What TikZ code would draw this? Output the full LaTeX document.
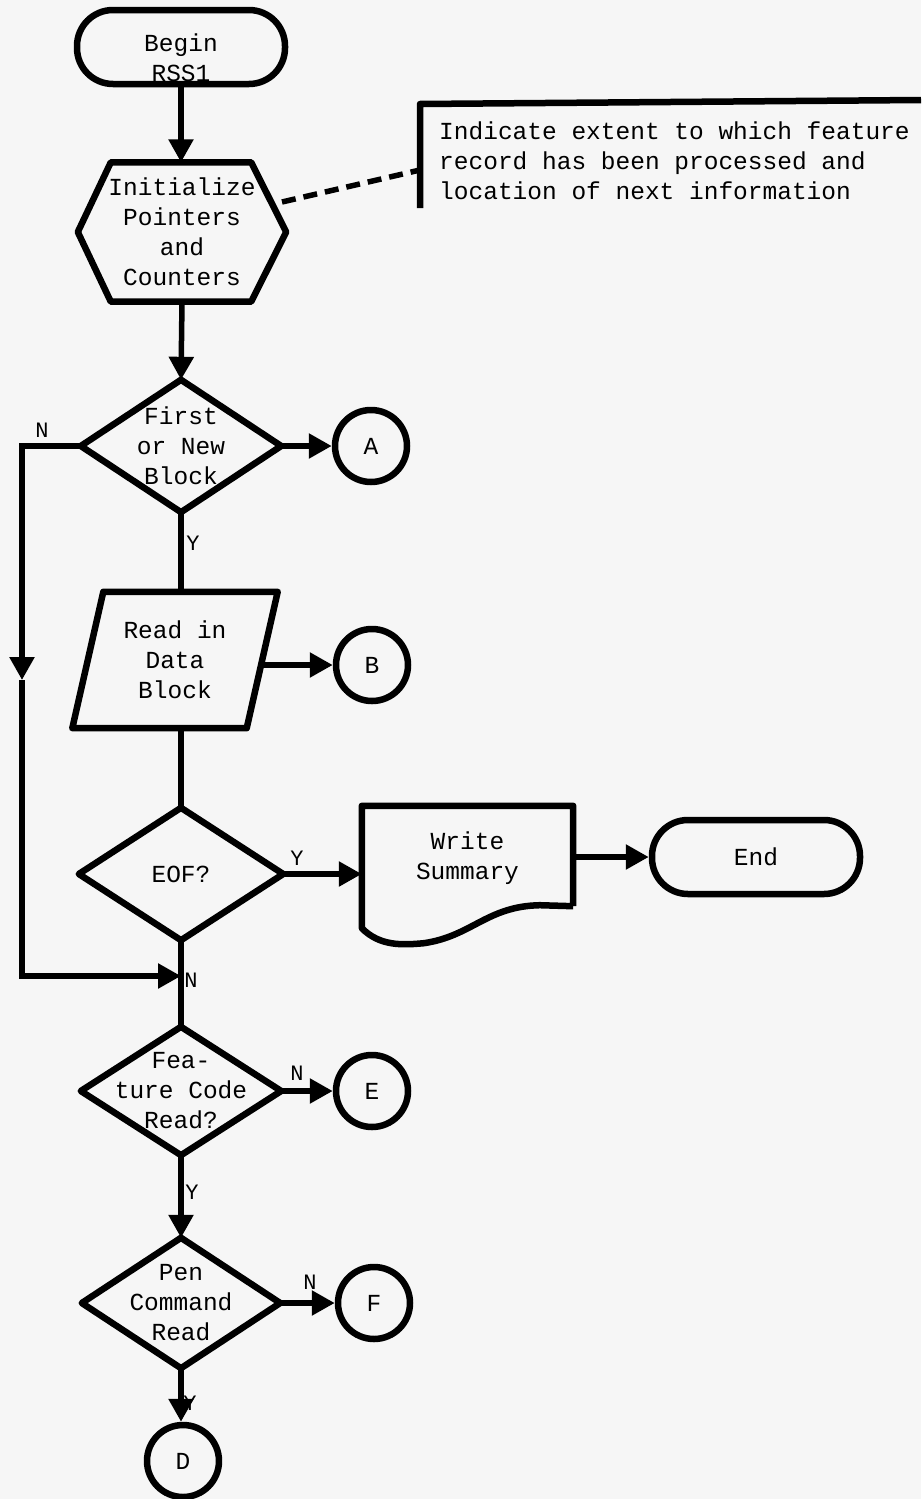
\documentclass[tikz,border=0pt]{standalone}
\usepackage{fontspec}
\setmainfont{Liberation Mono}
\usetikzlibrary{arrows.meta,calc}
\definecolor{paper}{RGB}{246,246,246}
\begin{document}
\begin{tikzpicture}[x=1pt,y=-1pt,
  every node/.style={font=\fontsize{24.5}{30}\selectfont, inner sep=0pt},
  shp/.style={line width=6.5pt, line join=round},
  con/.style={line width=5.5pt},
  arr/.style={con, -{Triangle[length=23pt,width=24pt]}},
  box/.style={rectangle, align=center},
  term/.style={shp, draw, rectangle, rounded corners=36pt, minimum width=208pt, minimum height=74pt},
  conn/.style={shp, draw, circle, minimum size=72pt},
  lbl/.style={font=\fontsize{22}{26}\selectfont}]
\fill[paper] (0,0) rectangle (921,1499);
\useasboundingbox (0,0) rectangle (921,1499);

% Begin
\node[term] (begin) at (181,47) {};
\node[align=center] (begintxt) at (181,58) {Begin\\RSS1};

% Initialize (hexagon)
\node[box, minimum width=208, minimum height=139] (init) at (182,232) {Initialize\\Pointers\\and\\Counters};
\draw[shp] ($(init.north west)+(33,0)$) -- ($(init.north east)+(-35,0)$) -- (init.east)
  -- ($(init.south east)+(-35,0)$) -- ($(init.south west)+(33,0)$) -- (init.west) -- cycle;
\draw[arr] (begin.south) -- (begin.south |- init.north);

% Annotation
\node[anchor=west, align=left] (note) at (439,161) {Indicate extent to which feature\\record has been processed and\\location of next information};
\coordinate (bt) at (420,104);
\coordinate (bb) at (420,208);
\coordinate (br) at (921,100);
\draw[shp] (br) -- (bt) -- (bb);
\coordinate (ds) at (282,202);
\coordinate (de) at (420,170);
\draw[con, dash pattern=on 14pt off 8pt] (ds) -- (de);

% First or New Block
\node[box, minimum width=200, minimum height=132] (first) at (181,446) {First\\or New\\Block};
\draw[shp] (first.north) -- (first.east) -- (first.south) -- (first.west) -- cycle;
\draw[arr] (init.south) -- (first.north);
\node[conn] (A) at (371,446) {A};
\draw[arr] (first.east) -- (A.west);
\node[lbl] (lN1) at (42,430) {N};
\node[lbl] (lY1) at (193,543) {Y};

% Read in Data Block
\node[box, minimum width=205, minimum height=136] (read) at (175,660) {Read in\\Data\\Block};
\draw[shp] ($(read.north west)+(31,0)$) -- (read.north east) -- ($(read.south east)+(-31,0)$)
  -- (read.south west) -- cycle;
\draw[con] (first.south) -- (first.south |- read.north);
\node[conn] (B) at (372,665) {B};
\coordinate (readR) at (262,665);
\draw[arr] (readR) -- (B.west);

% EOF?
\node[box, minimum width=204, minimum height=132] (eof) at (181,874) {EOF?};
\draw[shp] (eof.north) -- (eof.east) -- (eof.south) -- (eof.west) -- cycle;
\draw[con] (eof.north |- read.south) -- (eof.north);
\node[lbl] (lY2) at (297,858) {Y};

% Write Summary (document)
\node[box, minimum width=211, minimum height=100] (write) at (467.5,858) {Write\\Summary};
\draw[shp] ($(write.south east)+(0,-2)$) -- ($(write.north east)+(0,-2)$) -- ($(write.north west)+(0,-2)$)
  -- ($(write.south west)+(0,20)$)
  .. controls ($(write.south west)+(18,38)$) and ($(write.south west)+(40,37)$) .. ($(write.south west)+(62,35)$)
  .. controls ($(write.south west)+(110,28)$) and ($(write.south west)+(125,-2)$) .. ($(write.south west)+(178,-3)$)
  -- ($(write.south east)+(0,-2)$);
\draw[arr] (eof.east) -- (eof.east -| write.west);

% End
\node[term] (end) at (756,857) {End};
\draw[arr] (write.east |- end.west) -- (end.west);

% Left loop
\coordinate (nl) at (22,446);
\coordinate (nm) at (22,680);
\coordinate (nb) at (22,976);
\coordinate (join) at (181,976);
\draw[arr] (first.west) -- (nl) -- (nm);
\draw[arr] (nm) -- (nb) -- (join);
\node[lbl] (lN2) at (191,980) {N};

% Feature Code Read?
\node[box, minimum width=200, minimum height=128] (feat) at (181,1091) {Fea-\\ture Code\\Read?};
\draw[shp] (feat.north) -- (feat.east) -- (feat.south) -- (feat.west) -- cycle;
\draw[con] (eof.south) -- (feat.north);
\node[conn] (E) at (372,1091) {E};
\draw[arr] (feat.east) -- (E.west);
\node[lbl] (lN3) at (297,1073) {N};
\node[lbl] (lY3) at (192,1192) {Y};

% Pen Command Read
\node[box, minimum width=198, minimum height=130] (pen) at (181,1303) {Pen\\Command\\Read};
\draw[shp] (pen.north) -- (pen.east) -- (pen.south) -- (pen.west) -- cycle;
\draw[arr] (feat.south) -- (pen.north);
\node[conn] (F) at (374,1303) {F};
\draw[arr] (pen.east) -- (F.west);
\node[lbl] (lN4) at (310,1282) {N};

% D
\node[conn] (D) at (183,1461) {D};
\draw[arr] (pen.south) -- (pen.south |- D.north);
\node[lbl] (lY4) at (190,1403) {Y};
\end{tikzpicture}
\end{document}
